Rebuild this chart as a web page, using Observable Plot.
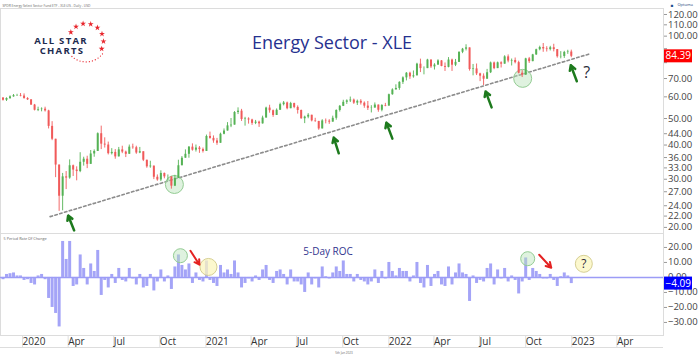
<!DOCTYPE html>
<html><head><meta charset="utf-8">
<script src="https://cdn.jsdelivr.net/npm/d3@7"></script>
<script src="https://cdn.jsdelivr.net/npm/@observablehq/plot@0.6"></script>
<style>
body{margin:0;background:#fff;font-family:"Open Sans",sans-serif;}
#wrap{position:relative;width:700px;height:357px;overflow:hidden;background:#fff;}
#wrap > svg{position:absolute;left:0;}
</style></head><body><div id="wrap"></div>
<script>
// ---------- DATA (weekly) ----------
const firstOpen = 59.4;
const close2019 = [58.3, 59.2, 60.0, 60.6, 60.7];
const high2019  = [59.6, 59.5, 60.5, 61.2, 61.3];
const low2019   = [57.9, 57.7, 58.7, 59.8, 60.2];
const close2020 = [60.4, 59.2, 58.5, 56.0, 53.6, 53.9, 54.1, 53.3, 46.8, 42.0, 33.8, 26.0, 30.6, 30.3, 33.6, 32.4, 32.0, 34.6, 35.5, 34.0, 37.1, 37.9, 44.0, 40.3, 40.0, 37.2, 37.6, 36.2, 38.4, 37.7, 37.0, 39.3, 39.1, 37.4, 37.8, 35.2, 33.3, 33.5, 30.5, 29.8, 31.5, 30.6, 30.6, 28.3, 30.2, 33.6, 35.8, 37.0, 39.3, 38.3, 39.0, 38.5, 37.9];
const high2020  = [61.7, 61.5, 59.6, 58.6, 56.3, 55.0, 54.7, 55.0, 53.6, 48.7, 42.0, 33.5, 31.5, 32.0, 35.3, 33.8, 33.3, 37.5, 36.1, 36.4, 38.2, 38.4, 44.3, 46.9, 42.5, 41.0, 38.8, 38.5, 39.2, 39.6, 38.0, 40.0, 40.3, 39.6, 39.2, 37.8, 35.0, 34.9, 33.3, 31.1, 32.2, 31.6, 31.1, 30.4, 31.0, 35.2, 36.3, 38.4, 39.5, 40.4, 40.0, 39.5, 39.0];
const low2020   = [60.0, 58.8, 58.2, 55.8, 53.3, 53.0, 52.9, 52.8, 45.8, 41.5, 30.4, 22.9, 23.0, 27.5, 30.0, 30.7, 29.6, 31.7, 33.5, 32.8, 35.3, 36.1, 38.3, 38.5, 39.0, 36.8, 36.8, 35.5, 36.4, 37.2, 36.0, 37.0, 38.6, 37.0, 37.2, 34.8, 32.9, 32.9, 29.9, 29.5, 29.4, 30.1, 29.5, 27.6, 28.2, 31.3, 33.8, 35.8, 35.8, 38.0, 37.7, 37.3, 37.4];
const close2021 = [43.0, 42.3, 41.4, 40.6, 43.8, 45.0, 47.0, 47.3, 52.6, 53.2, 49.6, 49.8, 49.4, 48.0, 48.5, 47.8, 50.2, 54.6, 53.4, 51.3, 53.6, 56.2, 57.0, 54.3, 56.7, 54.9, 53.5, 49.9, 50.6, 51.4, 49.0, 48.8, 45.8, 49.0, 48.9, 48.5, 50.1, 53.5, 55.4, 57.3, 58.0, 58.4, 56.9, 57.8, 56.9, 55.5, 54.5, 54.6, 56.0, 53.6, 55.8, 55.5];
const high2021  = [43.5, 44.6, 43.2, 42.3, 44.2, 45.8, 48.3, 50.0, 53.0, 54.7, 54.0, 50.5, 50.3, 49.7, 49.2, 48.9, 51.0, 55.0, 55.9, 53.7, 54.2, 56.9, 57.7, 57.4, 57.3, 56.9, 55.6, 53.7, 51.0, 52.1, 51.4, 50.1, 48.8, 49.5, 49.8, 49.5, 51.0, 53.8, 55.8, 58.3, 58.5, 59.9, 58.9, 58.4, 58.6, 57.5, 57.7, 55.7, 57.0, 56.0, 56.2, 56.8];
const low2021   = [38.6, 42.0, 40.6, 39.9, 41.0, 43.6, 45.3, 46.3, 47.3, 51.7, 48.8, 46.9, 47.7, 47.2, 47.5, 46.4, 47.7, 50.5, 52.3, 50.5, 51.3, 53.6, 55.6, 53.8, 54.4, 54.3, 51.9, 49.7, 47.9, 49.9, 48.6, 48.4, 45.3, 45.8, 47.8, 47.6, 48.6, 49.3, 52.8, 55.3, 56.3, 57.2, 56.3, 55.8, 56.0, 54.5, 53.5, 52.4, 54.6, 52.7, 52.9, 55.2];
const close2022 = [61.1, 63.6, 64.4, 67.8, 70.4, 73.2, 71.0, 71.6, 79.0, 76.1, 76.1, 81.8, 77.2, 78.4, 81.2, 77.5, 76.9, 81.8, 78.3, 80.2, 87.3, 89.6, 90.6, 75.5, 75.9, 72.8, 71.4, 69.6, 73.5, 79.8, 76.1, 79.9, 79.0, 84.0, 81.1, 81.5, 80.0, 73.2, 72.0, 82.6, 80.7, 85.4, 89.2, 90.9, 89.8, 89.3, 90.7, 89.3, 84.1, 84.3, 87.2, 87.5];
const high2022  = [61.4, 64.2, 66.4, 68.1, 71.0, 73.6, 73.8, 74.6, 79.6, 82.4, 77.2, 82.3, 81.8, 79.3, 82.0, 81.4, 79.8, 83.5, 82.4, 82.2, 87.6, 90.2, 93.0, 89.0, 78.8, 79.1, 73.2, 72.8, 75.6, 80.4, 80.4, 80.4, 80.6, 84.8, 85.4, 82.5, 83.2, 81.0, 74.8, 83.0, 83.6, 85.8, 89.6, 91.9, 94.0, 91.5, 91.8, 93.4, 88.6, 87.8, 88.0, 88.8];
const low2022   = [55.9, 60.8, 63.7, 63.4, 66.6, 68.6, 69.5, 70.2, 72.8, 73.6, 72.2, 77.0, 76.2, 75.2, 78.2, 77.3, 74.3, 76.6, 74.3, 77.4, 80.5, 86.3, 88.3, 74.5, 71.6, 71.8, 68.2, 66.0, 71.0, 73.0, 75.4, 76.6, 76.5, 79.0, 79.9, 77.8, 79.2, 72.8, 70.6, 74.0, 79.5, 80.6, 85.0, 88.4, 87.3, 87.5, 88.3, 87.6, 83.1, 82.6, 82.9, 85.8];
const close2023 = [84.39];
const high2023  = [88.9];
const low2023   = [83.4];

// 5-day rate of change (%), one value per week
const roc2019 = [-1.5, 2, 2.5, 3, 1];
const roc2020 = [1, -2, -1.5, -4, -5, 1, 2, -1.5, -14, -20, -24, -33, 24, 12, 24, -6, -5, 15, 6, -5, 9, 4, 18, -12, -2, -7, 2, -4, 6, -2, -3, 6, -1, -5, 2, -7, -6, 2, -9, -3, 5, -3, 1, -8, 7, 15, 8, 5, 9, -4, 3, -2, -3];
const roc2021 = [11, -2, -4, -6, 8, 3, 5, 2, 11, 3, -7, -4, -1, -3, 1, -2, 5, 8, -2, -4, 4, 5, 2, -5, 5, -3, -3, -5, -10, 3, -5, -1, -7, 7, 0.5, -1, 3, 7, 4, 11, 2, 2, -3, 2, -2, -3, -5, -3, 5, -4, 4, -1];
const roc2022 = [10, 4, 1, 6, 4, 4, -3, 1, 10, -4, -7, 8, -6, 2, 4, -5, -6, 7, -5, 3, 9, 3, 2, -16, 1, -4, -2, -3, 6, 9, -5, 5, -1, 6, -3, 1, -2, -11, -3, 13, -2, 6, 4, 2, -1, -1, 2, -2, -6, 0.5, 3, 1];
const roc2023 = [-4.09];

const lastPrice = 84.39;
const lastRoc = -4.09;

const priceTicks = [20, 22, 24, 27, 30, 33, 36, 40, 44, 50, 60, 70, 80, 90, 100, 110, 120];
const rocTicks = [20, 10, 0, -10, -20, -30];
const monthTickDates = ["2020-01-01","2020-04-01","2020-07-01","2020-10-01","2021-01-01","2021-04-01","2021-07-01","2021-10-01","2022-01-01","2022-04-01","2022-07-01","2022-10-01","2023-01-01","2023-04-01"];
const monthTickLabels = ["2020","Apr","Jul","Oct","2021","Apr","Jul","Oct","2022","Apr","Jul","Oct","2023","Apr"];

// annotations (data coordinates)
const trendPoints = [{date: "2020-02-29", price: 21.9}, {date: "2023-02-12", price: 86.4}];
const greenArrows = [
  {d1: "2020-04-17", p1: 19.5, d2: "2020-04-05", p2: 22.1},
  {d1: "2021-09-27", p1: 37.3, d2: "2021-09-17", p2: 42.6},
  {d1: "2022-01-12", p1: 42.2, d2: "2021-12-31", p2: 48.3},
  {d1: "2022-07-29", p1: 54.9, d2: "2022-07-17", p2: 62.8},
  {d1: "2023-01-15", p1: 68.4, d2: "2023-01-03", p2: 78.3}
];
const priceCircles = [{date: "2020-11-03", price: 28.7}, {date: "2022-09-29", price: 70.1}];
const priceQuestion = [{date: "2023-02-04", price: 73.7}];
const rocGreenCircles = [{date: "2020-11-15", v: 14.5}, {date: "2022-10-09", v: 12.5}];
const rocYellowCircles = [{date: "2021-01-10", v: 7, t: ""}, {date: "2023-01-29", v: 9.1, t: "?"}];
const rocRedArrows = [
  {d1: "2020-12-05", v1: 17.8, d2: "2020-12-23", v2: 8.5},
  {d1: "2022-11-01", v1: 15.1, d2: "2022-11-25", v2: 6.5}
];

// ---------- BUILD ----------
const closes = [...close2019, ...close2020, ...close2021, ...close2022, ...close2023];
const highs = [...high2019, ...high2020, ...high2021, ...high2022, ...high2023];
const lows = [...low2019, ...low2020, ...low2021, ...low2022, ...low2023];
const rocs = [...roc2019, ...roc2020, ...roc2021, ...roc2022, ...roc2023];
const fridays = d3.utcFriday.range(new Date("2019-11-29"), new Date("2023-01-07"));
const candles = fridays.map((f, i) => {
  const open = i ? closes[i - 1] : firstOpen, close = closes[i];
  return {date: d3.utcDay.offset(f, -2), open, close,
    high: Math.max(highs[i], open, close), low: Math.min(lows[i], open, close), up: close >= open};
});
const rocData = fridays.map((f, i) => ({date: d3.utcDay.offset(f, -2), roc: rocs[i]}));
const D = s => new Date(s);
const xDomain = [D("2019-11-22"), D("2023-07-07")];
const fmt2 = d3.format(".2f");
const labelByTime = new Map(monthTickDates.map((s, i) => [+D(s), monthTickLabels[i]]));
const UP = "#55b255", DOWN = "#f05a5a";

function lastLabel(value, text, bg) {
  return (index, scales, values, dims) => {
    const y = scales.y(value);
    const x0 = dims.width - dims.marginRight + 1;
    const g = d3.create("svg:g");
    g.append("rect").attr("x", x0).attr("y", y - 6.5).attr("width", 28).attr("height", 13).attr("fill", bg);
    g.append("text").attr("x", x0 + 1.5).attr("y", y).attr("dy", "0.36em").attr("text-anchor", "start")
      .attr("fill", "#fff").attr("font-size", 10).attr("font-family", "Open Sans").text(text);
    return g.node();
  };
}

const upper = Plot.plot({
  width: 700, height: 233, marginTop: 8, marginBottom: 0, marginLeft: 0, marginRight: 37,
  style: {fontFamily: "Open Sans", background: "transparent", overflow: "visible"},
  x: {type: "utc", domain: xDomain, axis: null},
  y: {type: "log", domain: [19.0, 126.2], axis: null},
  marks: [
    Plot.frame({stroke: "#dcdcdc"}),
    Plot.axisY(priceTicks, {anchor: "right", tickFormat: fmt2, tickSize: 3, tickPadding: 1.5, fontSize: 9.5, fill: "#444", stroke: "#999"}),
    Plot.text(["SPDR Energy Select Sector Fund ETF - XLE:US - Daily - USD"], {frameAnchor: "top-left", dx: 2, dy: -4, fontSize: 3.3, fill: "#666", textAnchor: "start"}),
    Plot.text(["■"], {frameAnchor: "top-right", dx: 10, dy: -5, fontSize: 4.5, fill: "#1d4f91"}),
    Plot.text(["Optuma"], {frameAnchor: "top-right", dx: 14, dy: -5, fontSize: 4, fill: "#1d3f7a", textAnchor: "start"}),
    Plot.text(["Energy Sector - XLE"], {frameAnchor: "top", dy: 28, fontSize: 18, fill: "#26318f"}),
    Plot.line(trendPoints, {x: d => D(d.date), y: "price", stroke: "#8c8c8c", strokeWidth: 1.6, strokeDasharray: "2.5,2.5"}),
    Plot.dot(priceCircles, {x: d => D(d.date), y: "price", r: 9, fill: "#b9e2b9", fillOpacity: 0.45, stroke: "#93cc93", strokeWidth: 1}),
    Plot.ruleX(candles, {x: "date", y1: "low", y2: "high", stroke: d => d.up ? UP : DOWN, strokeWidth: 0.9}),
    Plot.ruleX(candles, {x: "date", y1: "open", y2: "close", stroke: d => d.up ? UP : DOWN, strokeWidth: 2}),
    Plot.arrow(greenArrows, {x1: d => D(d.d1), y1: "p1", x2: d => D(d.d2), y2: "p2", stroke: "#1d7a1d", strokeWidth: 2.5, headLength: 7}),
    Plot.text(priceQuestion, {x: d => D(d.date), y: "price", text: () => "?", fontSize: 16, fill: "#2b2b3a"}),
    lastLabel(lastPrice, fmt2(lastPrice), "#ff0000")
  ]
});

const lower = Plot.plot({
  width: 700, height: 124, marginTop: 0, marginBottom: 22, marginLeft: 0, marginRight: 37,
  style: {fontFamily: "Open Sans", background: "transparent", overflow: "visible"},
  x: {type: "utc", domain: xDomain, axis: null},
  y: {domain: [-38.7, 29.3], axis: null},
  marks: [
    Plot.frame({stroke: "#dcdcdc"}),
    Plot.ruleX(rocData, {x: "date", y1: 0, y2: "roc", stroke: "#a4a4f7", strokeWidth: 3}),
    Plot.ruleY([0], {stroke: "#9c9cf6", strokeWidth: 1.6}),
    Plot.axisY(rocTicks, {anchor: "right", tickFormat: fmt2, tickSize: 3, tickPadding: 1.5, fontSize: 9.5, fill: "#444", stroke: "#999"}),
    Plot.axisX(monthTickDates.map(D), {anchor: "bottom", tickSize: 12, tickPadding: -10, textAnchor: "start", dx: 2, lineAnchor: "top",
      tickFormat: d => labelByTime.get(+d), fontSize: 10, fill: "#333", stroke: "#dddddd"}),
    Plot.text(["5 Period Rate Of Change"], {frameAnchor: "top-left", dx: 3, dy: 4, fontSize: 3.8, fill: "#666", textAnchor: "start"}),
    Plot.text(["5-Day ROC"], {frameAnchor: "top", dx: -4, dy: 14, fontSize: 10, fill: "#33358f"}),
    Plot.text(["5th Jan 2023"], {frameAnchor: "bottom", dx: 12, dy: 18, fontSize: 3, fill: "#666"}),
    Plot.dot(rocGreenCircles, {x: d => D(d.date), y: "v", r: 7, fill: "#b9e2b9", fillOpacity: 0.45, stroke: "#93cc93", strokeWidth: 1}),
    Plot.dot(rocYellowCircles, {x: d => D(d.date), y: "v", r: 8.5, fill: "#fbf5bd", fillOpacity: 0.75, stroke: "#d6cf93", strokeWidth: 1}),
    Plot.text(rocYellowCircles, {x: d => D(d.date), y: "v", text: "t", fontSize: 12, fill: "#2b2b3a"}),
    Plot.arrow(rocRedArrows, {x1: d => D(d.d1), y1: "v1", x2: d => D(d.d2), y2: "v2", stroke: "#e42222", strokeWidth: 2, headLength: 5}),
    lastLabel(lastRoc, fmt2(lastRoc), "#0000ff")
  ]
});

const wrap = document.getElementById("wrap");
upper.style.top = "0px";
lower.style.top = "233px";
wrap.appendChild(upper);
wrap.appendChild(lower);

// axis band bottom line and logo (decoration)
const band = document.createElement("div");
band.style.cssText = "position:absolute;left:0;top:347px;width:663px;height:0;border-top:1px solid #dddddd;";
wrap.appendChild(band);

const logo = d3.create("svg").attr("width", 120).attr("height", 70).style("top", "0px");
const cx = 86, cy = 41, rStar = 17.5;
logo.selectAll("path.star").data(d3.range(8).map(i => (-150 + i * 25.2) * Math.PI / 180)).join("path")
  .attr("class", "star").attr("fill", "#e8262d")
  .attr("transform", a => `translate(${cx + rStar * Math.cos(a)},${cy + rStar * Math.sin(a)})`)
  .attr("d", d3.symbol(d3.symbolStar, 11));
logo.append("path").attr("fill", "none").attr("stroke", "#e8262d").attr("stroke-width", 1.3)
  .attr("stroke-linecap", "round").attr("stroke-dasharray", "0 3.1").attr("d", "M 102.5 53.9 A 21 21 0 0 1 71.2 55.8");
logo.append("text").attr("x", 61).attr("y", 43.5).attr("text-anchor", "middle").attr("font-weight", 700)
  .attr("font-family", "Open Sans").attr("font-size", 9.5).attr("letter-spacing", 1.3).attr("fill", "#1d2b4f").text("ALL STAR");
logo.append("text").attr("x", 62).attr("y", 53.5).attr("text-anchor", "middle").attr("font-weight", 700)
  .attr("font-family", "Open Sans").attr("font-size", 9.5).attr("letter-spacing", 1.3).attr("fill", "#1d2b4f").text("CHARTS");
wrap.appendChild(logo.node());
</script>
</body></html>
